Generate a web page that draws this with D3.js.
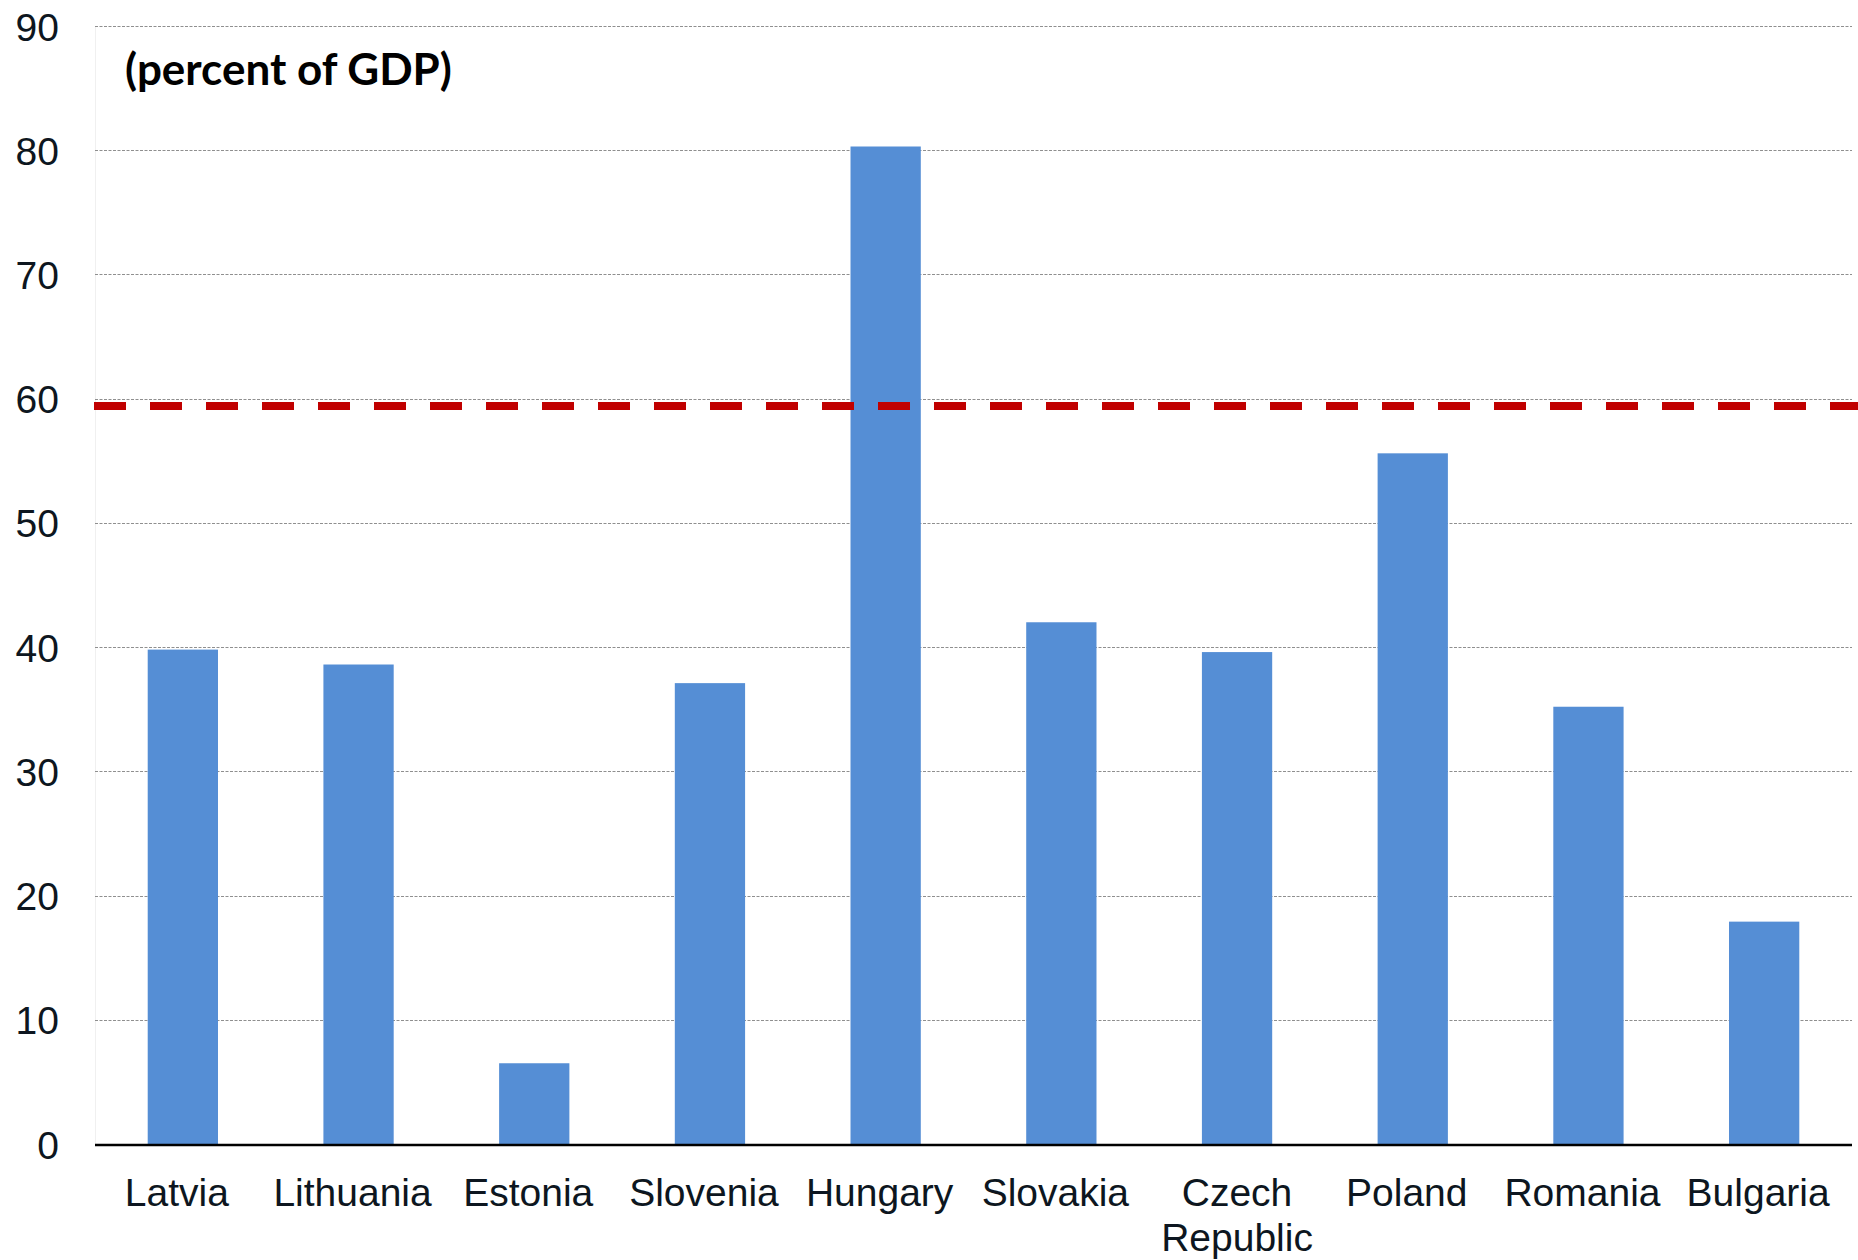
<!DOCTYPE html>
<html>
<head>
<meta charset="utf-8">
<script src="https://cdn.jsdelivr.net/npm/d3@7"></script>
<style>
  html, body { margin: 0; padding: 0; background: #fff; }
  svg { display: block; }
</style>
</head>
<body>
<svg id="chart" width="1858" height="1260"></svg>
<script>
// Public debt by country, percent of GDP
const countries = ["Latvia", "Lithuania", "Estonia", "Slovenia", "Hungary",
                   "Slovakia", "Czech\nRepublic", "Poland", "Romania", "Bulgaria"];
const debtValues = [39.8, 38.6, 6.5, 37.1, 80.3, 42.0, 39.6, 55.6, 35.2, 17.9];
const yTicks = [0, 10, 20, 30, 40, 50, 60, 70, 80, 90];
const referenceLevel = [59.4];
const unitLabel = "(percent of GDP)";

const svg = d3.select("#chart");
const plotLeft = 95, plotRight = 1852, plotTop = 26, plotBottom = 1144;

const x = d3.scaleBand()
  .domain(countries)
  .range([plotLeft, plotRight])
  .paddingInner(0.6)
  .paddingOuter(0.3);

const y = d3.scaleLinear().domain([0, 90]).range([plotBottom, plotTop]);

// faint left edge of the plot area
svg.append("line")
  .attr("x1", plotLeft + 0.5).attr("x2", plotLeft + 0.5)
  .attr("y1", plotTop).attr("y2", plotBottom)
  .attr("stroke", "#f0f0f0").attr("stroke-width", 1);

// horizontal gridlines
svg.append("g").selectAll("line")
  .data(yTicks.filter(d => d > 0))
  .join("line")
  .attr("x1", plotLeft).attr("x2", plotRight)
  .attr("y1", d => Math.round(y(d)) + 0.5)
  .attr("y2", d => Math.round(y(d)) + 0.5)
  .attr("stroke", "#8f8f8f")
  .attr("stroke-width", 1)
  .attr("stroke-dasharray", "3,1.5");

// y-axis labels
const yAxis = d3.axisLeft(y).tickValues(yTicks).tickSize(0).tickPadding(0);
const gy = svg.append("g").attr("transform", "translate(59,0)").call(yAxis);
gy.select(".domain").remove();
gy.selectAll("text")
  .attr("font-family", "'Liberation Sans', Arial, sans-serif")
  .attr("font-size", 39)
  .attr("fill", "#0d1620")
  .attr("dy", "0.36em");

// bars
svg.append("g").selectAll("rect")
  .data(countries.map((c, i) => ({ c, v: debtValues[i] })))
  .join("rect")
  .attr("x", d => x(d.c))
  .attr("width", x.bandwidth())
  .attr("y", d => y(d.v))
  .attr("height", d => y(0) - y(d.v))
  .attr("fill", "#558ED5");

// baseline axis
svg.append("line")
  .attr("x1", plotLeft).attr("x2", plotRight)
  .attr("y1", plotBottom + 1).attr("y2", plotBottom + 1)
  .attr("stroke", "#000").attr("stroke-width", 2.5);

// reference threshold line
svg.append("g").selectAll("line")
  .data(referenceLevel)
  .join("line")
  .attr("x1", 94).attr("x2", 1858)
  .attr("y1", d => y(d)).attr("y2", d => y(d))
  .attr("stroke", "#C00000")
  .attr("stroke-width", 8)
  .attr("stroke-dasharray", "32,24");

// category labels; single-line names sit slightly left of the bar centre
const xAxis = svg.append("g");
countries.forEach(c => {
  const lines = c.split("\n");
  const cx = x(c) + x.bandwidth() / 2 - (lines.length === 1 ? 6 : 0);
  const t = xAxis.append("text")
    .attr("x", cx)
    .attr("y", 1206)
    .attr("text-anchor", "middle")
    .attr("font-family", "'Liberation Sans', Arial, sans-serif")
    .attr("font-size", 39)
    .attr("fill", "#0d1620");
  lines.forEach((ln, i) => {
    t.append("tspan")
      .attr("x", cx)
      .attr("dy", i === 0 ? 0 : 45)
      .text(ln);
  });
});

// unit label
const unit = svg.append("text")
  .attr("x", 125)
  .attr("y", 85)
  .attr("font-family", "Lato, 'Open Sans', sans-serif")
  .attr("font-weight", 700)
  .attr("font-size", 40)
  .attr("fill", "#000")
  .text(unitLabel);
const w = unit.node().getComputedTextLength();
unit.attr("font-size", 40 * 327 / w);
</script>
</body>
</html>
